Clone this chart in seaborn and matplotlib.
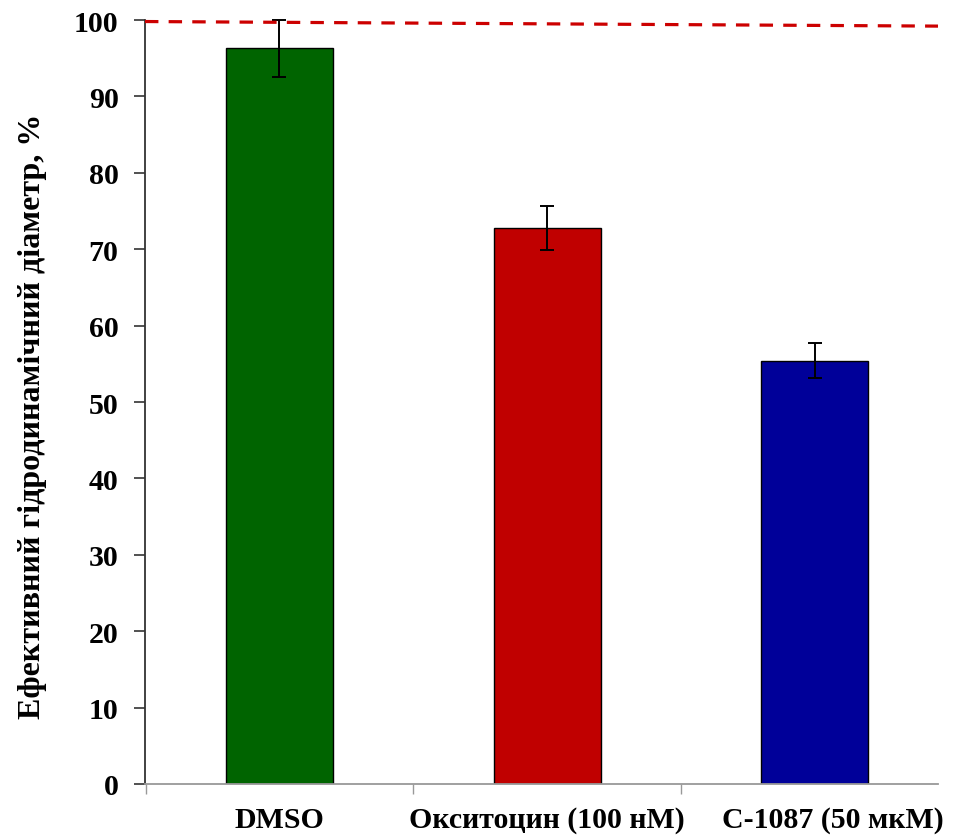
import matplotlib
matplotlib.use("Agg")
import matplotlib.pyplot as plt
import matplotlib.transforms as mtransforms
import seaborn as sns
import pandas as pd

# Data
groups = ["DMSO", "Окситоцин (100 нМ)", "С-1087 (50 мкМ)"]
diameter = [96.3, 72.8, 55.4]
diameter_err = [3.7, 2.9, 2.3]
bar_colors = ["#006400", "#C00000", "#000099"]
control_level = [99.8, 99.2]   # dashed control line, left and right ends
y_ticks = [0, 10, 20, 30, 40, 50, 60, 70, 80, 90, 100]
y_label = "Ефективний гідродинамічний діаметр, %"

sns.set_theme(style="white")
plt.rcParams["font.family"] = ["Liberation Serif", "DejaVu Serif"]
plt.rcParams["font.weight"] = "bold"
plt.rcParams["text.color"] = "black"
plt.rcParams["axes.labelcolor"] = "black"
plt.rcParams["xtick.color"] = "black"
plt.rcParams["ytick.color"] = "black"

df = pd.DataFrame({"group": groups, "value": diameter})

fig = plt.figure(figsize=(9.63, 8.37), dpi=100)
ax = fig.add_axes([145 / 963, 1 - 785 / 837, (938 - 145) / 963, (785 - 21) / 837])

sns.barplot(data=df, x="group", y="value", hue="group", palette=bar_colors,
            order=groups, hue_order=groups, legend=False, errorbar=None,
            saturation=1, width=0.4, edgecolor="black", linewidth=1.0, ax=ax)

ax.errorbar(range(len(groups)), diameter, yerr=diameter_err, fmt="none",
            ecolor="black", elinewidth=1.4, capsize=4.7, capthick=1.4,
            zorder=5, clip_on=False)

xlim = (-0.502, 2.46)
ax.plot(list(xlim), control_level, color="#CC0000", linewidth=2.3,
        linestyle=(0, (4.2, 3.2)), zorder=6, clip_on=False)

ax.set_xlim(*xlim)
ax.set_ylim(0, 100)
ax.set_yticks(y_ticks)
ax.set_yticklabels([str(t) for t in y_ticks], fontsize=21.5, fontweight="bold",
                   color="black")

ax.set_xticks(range(len(groups)))
ax.set_xticklabels(groups, fontsize=21.5, fontweight="bold", color="black")
ax.set_xticks([-0.5, 0.5, 1.5], minor=True)
ax.tick_params(axis="x", which="major", length=0, pad=16)
ax.tick_params(axis="x", which="minor", length=7, width=1.0, color="#999999",
               direction="out", bottom=True)
ax.tick_params(axis="y", which="major", length=8, width=1.2, color="#333333",
               direction="out", left=True, pad=11)

# the last category label sits a little to the right of its bar
last = ax.get_xticklabels()[-1]
last.set_transform(last.get_transform() +
                   mtransforms.ScaledTranslation(18 / 100, 0, fig.dpi_scale_trans))

ax.set_xlabel("")
ax.set_ylabel(y_label, fontsize=23, fontweight="bold", color="black")
ax.yaxis.set_label_coords(-0.124, 0.482)

for side in ("top", "right"):
    ax.spines[side].set_visible(False)
ax.spines["left"].set_color("#333333")
ax.spines["left"].set_linewidth(1.3)
ax.spines["bottom"].set_color("#999999")
ax.spines["bottom"].set_linewidth(1.3)

fig.savefig("out.png", dpi=100, facecolor="white")
